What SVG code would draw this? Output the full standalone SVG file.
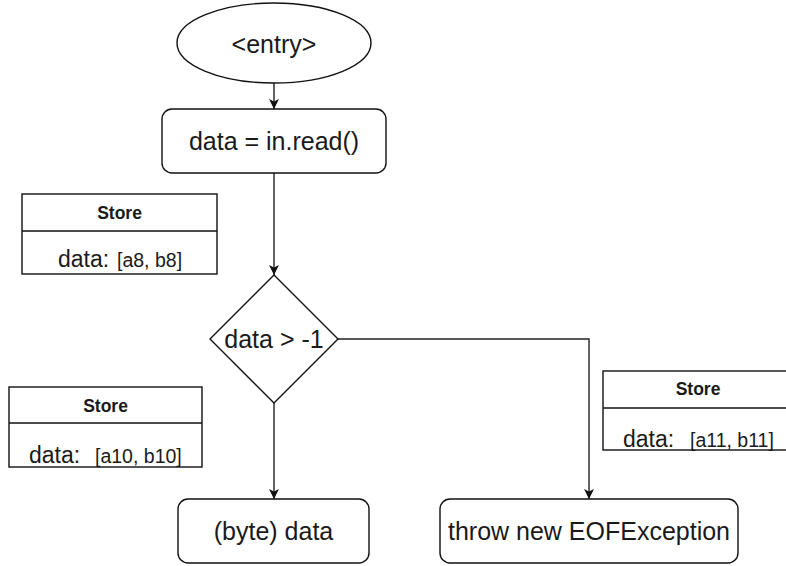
<svg xmlns="http://www.w3.org/2000/svg" width="786" height="566" viewBox="0 0 786 566">
  <defs>
    <marker id="arrow" viewBox="0 0 10 10" refX="10" refY="5" markerWidth="10" markerHeight="10" markerUnits="userSpaceOnUse" orient="auto">
      <path d="M0,0 L10,5 L0,10 L2.5,5 Z" fill="#111"/>
    </marker>
    <style>
      .shape { fill: #fff; stroke: #111; stroke-width: 1.4; }
      .edge { fill: none; stroke: #222; stroke-width: 1.4; }
      .lbl { font-family: "Liberation Sans", Arial, sans-serif; font-size: 25px; fill: #1a1a1a; text-anchor: middle; }
      .title { font-family: "Liberation Sans", Arial, sans-serif; font-size: 17.5px; font-weight: bold; fill: #1a1a1a; text-anchor: middle; }
      .key { font-family: "Liberation Sans", Arial, sans-serif; font-size: 23px; fill: #1a1a1a; }
      .val { font-family: "Liberation Sans", Arial, sans-serif; font-size: 19.5px; fill: #1a1a1a; }
    </style>
  </defs>
  <rect width="786" height="566" fill="#fff"/>

  <!-- control-flow edges -->
  <g id="connectors">
    <path class="edge" d="M274,83 L274,109" marker-end="url(#arrow)"/>
    <path class="edge" d="M274,173 L274,275" marker-end="url(#arrow)"/>
    <path class="edge" d="M274,403 L274,499" marker-end="url(#arrow)"/>
    <path class="edge" d="M338,339 L589,339 L589,499" marker-end="url(#arrow)"/>
  </g>

  <g id="entry">
    <ellipse class="shape" cx="274" cy="43" rx="97" ry="40"/>
    <text class="lbl" x="274" y="53" font-size="28">&lt;entry&gt;</text>
  </g>

  <g id="read">
    <rect class="shape" x="162" y="109" width="224" height="64" rx="10"/>
    <text class="lbl" x="274" y="150">data = in.read()</text>
  </g>

  <g id="cond">
    <polygon class="shape" points="274,275 338,339 274,403 210,339"/>
    <text class="lbl" x="274" y="348">data &gt; -1</text>
  </g>

  <g id="cast">
    <rect class="shape" x="178" y="499" width="191" height="64" rx="10"/>
    <text class="lbl" x="273.5" y="540">(byte) data</text>
  </g>

  <g id="throw">
    <rect class="shape" x="440" y="499" width="298" height="64" rx="10"/>
    <text class="lbl" x="589" y="540">throw new EOFException</text>
  </g>

  <!-- store annotations -->
  <g id="store-read">
    <rect class="shape" x="22" y="194" width="195" height="80"/>
    <line class="shape" x1="22" y1="231" x2="217" y2="231"/>
    <text class="title" x="119.5" y="219">Store</text>
    <text class="key" x="58" y="267">data:</text>
    <text class="val" x="117" y="267">[a8, b8]</text>
  </g>

  <g id="store-cast">
    <rect class="shape" x="9" y="387" width="193" height="80"/>
    <line class="shape" x1="9" y1="423" x2="202" y2="423"/>
    <text class="title" x="105.5" y="412">Store</text>
    <text class="key" x="29" y="463">data:</text>
    <text class="val" x="95" y="463">[a10, b10]</text>
  </g>

  <g id="store-throw">
    <rect class="shape" x="603" y="371" width="190" height="79"/>
    <line class="shape" x1="603" y1="408" x2="793" y2="408"/>
    <text class="title" x="698" y="395">Store</text>
    <text class="key" x="623" y="447">data:</text>
    <text class="val" x="690" y="447">[a11, b11]</text>
  </g>
</svg>
